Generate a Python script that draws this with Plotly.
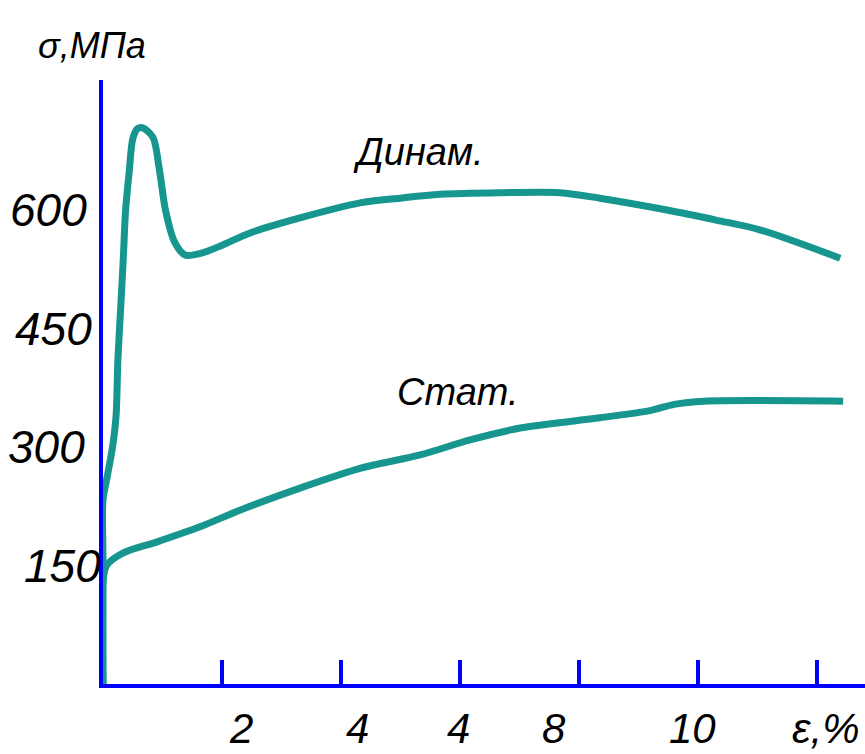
import plotly.graph_objects as go

# Strain, % and stress, MPa
dyn_eps = [0.0, 0.0, 0.0, 0.07, 0.16, 0.22, 0.25, 0.30, 0.34, 0.38, 0.44, 0.50, 0.58,
           0.67, 0.84, 0.95, 1.05, 1.2, 1.38, 1.68, 2.02, 2.47, 3.31, 4.32, 4.99,
           5.66, 6.67, 7.68, 8.35, 9.48, 10.32, 11.04, 12.39]
dyn_sigma = [0, 157, 233, 262, 300, 340, 410, 480, 537, 600, 648, 690, 703,
             704, 692, 650, 600, 560, 543, 546, 556, 571, 590, 609, 615,
             620, 622, 622, 615, 600, 587, 575, 539]

stat_eps = [0.0, 0.0, 0.06, 0.34, 0.91, 1.63, 2.30, 3.31, 4.32, 5.33, 6.17, 7.01,
            8.35, 9.19, 9.6, 10.1, 12.44]
stat_sigma = [0, 130, 150, 166, 180, 199, 220, 248, 273, 290, 309, 324,
              337, 346, 354, 358, 358]

# Axis ticks and their labels (the third label is printed as "4")
x_ticks = [2, 4, 6, 8, 10, 12]
x_tick_text = ["2", "4", "4", "8", "10", "ε,%"]
y_ticks = [600, 450, 300, 150]
y_tick_text = ["600", "450", "300", "150"]

curve_names = ["Динам.", "Стат."]
y_title = "σ,МПа"

TEAL = "#16968f"
BLUE = "#0000ff"
FONT = "Liberation Sans, Arial, sans-serif"

fig = go.Figure()
for xs, ys in [(dyn_eps, dyn_sigma), (stat_eps, stat_sigma)]:
    fig.add_trace(go.Scatter(
        x=xs, y=ys, mode="lines",
        line=dict(color=TEAL, width=7, shape="spline", smoothing=0.8),
        cliponaxis=False, hoverinfo="skip", showlegend=False,
    ))

annotations = []
# stress labels to the left of the vertical axis
y_label_dx = [-55, -50, -57, -41]
for v, t, dx in zip(y_ticks, y_tick_text, y_label_dx):
    annotations.append(dict(
        x=0, xref="paper", y=v, yref="y", text=t, showarrow=False,
        xanchor="center", yanchor="middle", xshift=dx,
        font=dict(family=FONT, size=46, color="black", style="italic"),
    ))
# strain labels under the horizontal axis
x_label_dx = [19, 17, -1, -25, -5, 9]
for v, t, dx in zip(x_ticks, x_tick_text, x_label_dx):
    annotations.append(dict(
        x=v, xref="x", y=0, yref="paper", text=t, showarrow=False,
        xanchor="center", yanchor="middle", xshift=dx, yshift=-44,
        font=dict(family=FONT, size=42, color="black", style="italic"),
    ))
# axis title and curve names
annotations.append(dict(
    x=0, xref="paper", y=1, yref="paper", text=y_title, showarrow=False,
    xanchor="center", yanchor="middle", xshift=-11, yshift=35,
    font=dict(family=FONT, size=36, color="black", style="italic"),
))
for (cx, cy), t in zip([(5.3, 673), (5.97, 370)], curve_names):
    annotations.append(dict(
        x=cx, y=cy, xref="x", yref="y", text=t, showarrow=False,
        xanchor="center", yanchor="middle",
        font=dict(family=FONT, size=38, color="black", style="italic"),
    ))

fig.update_layout(
    width=865, height=754,
    margin=dict(l=103, r=0, t=80, b=70),
    paper_bgcolor="white", plot_bgcolor="white",
    annotations=annotations,
    xaxis=dict(
        range=[0, 12.807], showgrid=False, zeroline=False,
        showline=True, linecolor=BLUE, linewidth=4,
        tickmode="array", tickvals=x_ticks, ticks="inside",
        ticklen=24, tickwidth=4, tickcolor=BLUE,
        showticklabels=False, layer="below traces", fixedrange=True,
    ),
    yaxis=dict(
        range=[0, 764.6], showgrid=False, zeroline=False,
        showline=True, linecolor=BLUE, linewidth=4,
        ticks="", showticklabels=False, layer="below traces", fixedrange=True,
    ),
)

fig.write_html("out.html")
